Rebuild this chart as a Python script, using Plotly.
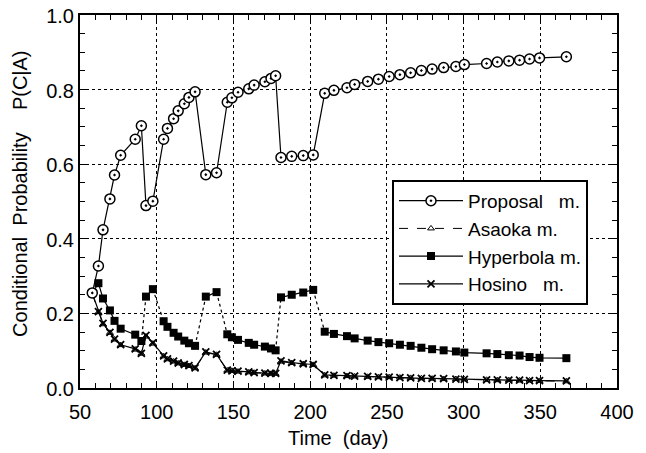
import plotly.graph_objects as go

days = [58, 62, 65, 69.5, 72.5, 76.5, 86, 90, 93, 97.5,
        104.5, 107, 111, 114, 118, 121, 125, 132, 139, 146,
        149, 153, 160, 163.5, 170.5, 174.5, 177.5, 181, 188, 195.5,
        202, 209.5, 215.5, 224, 229, 237.5, 244.5, 251.5, 258.5, 265.5,
        272.5, 279.5, 287, 295, 300.5, 315, 322, 329.5, 336.5, 343,
        349.5, 367]

proposal = [0.255, 0.327, 0.424, 0.507, 0.571, 0.624, 0.667, 0.703, 0.489, 0.501,
            0.667, 0.696, 0.722, 0.743, 0.762, 0.779, 0.794, 0.572, 0.577, 0.766,
            0.778, 0.793, 0.802, 0.812, 0.821, 0.830, 0.837, 0.618, 0.621, 0.623,
            0.625, 0.790, 0.798, 0.805, 0.814, 0.822, 0.828, 0.835, 0.840, 0.845,
            0.851, 0.855, 0.859, 0.862, 0.867, 0.870, 0.874, 0.877, 0.879, 0.882,
            0.885, 0.888]

hyperbola = [0.254, 0.281, 0.240, 0.208, 0.180, 0.159, 0.143, 0.126, 0.245, 0.265,
             0.179, 0.164, 0.148, 0.138, 0.127, 0.120, 0.113, 0.245, 0.257, 0.144,
             0.136, 0.129, 0.121, 0.116, 0.111, 0.106, 0.101, 0.243, 0.250, 0.256,
             0.263, 0.151, 0.145, 0.139, 0.133, 0.127, 0.123, 0.120, 0.116, 0.113,
             0.108, 0.104, 0.101, 0.098, 0.095, 0.093, 0.091, 0.088, 0.087, 0.083,
             0.081, 0.080]

hosino = [0.254, 0.205, 0.173, 0.149, 0.131, 0.116, 0.105, 0.093, 0.141, 0.121,
          0.086, 0.078, 0.072, 0.067, 0.063, 0.060, 0.054, 0.097, 0.090, 0.048,
          0.046, 0.045, 0.043, 0.041, 0.040, 0.039, 0.039, 0.073, 0.068, 0.065,
          0.063, 0.035, 0.034, 0.033, 0.032, 0.031, 0.030, 0.029, 0.028, 0.027,
          0.026, 0.026, 0.025, 0.024, 0.023, 0.022, 0.022, 0.021, 0.021, 0.020,
          0.020, 0.019]

asaoka = [0.252, 0.203, 0.171, 0.148, 0.130, 0.115, 0.103, 0.092, 0.138, 0.119,
          0.085, 0.077, 0.071, 0.066, 0.062, 0.059, 0.053, 0.095, 0.089, 0.047,
          0.046, 0.044, 0.042, 0.041, 0.039, 0.038, 0.038, 0.071, 0.067, 0.064,
          0.062, 0.034, 0.033, 0.032, 0.031, 0.030, 0.029, 0.029, 0.028, 0.027,
          0.026, 0.025, 0.024, 0.024, 0.023, 0.022, 0.021, 0.021, 0.020, 0.020,
          0.019, 0.018]

# indices where a new loading stage starts (hyperbola lines are broken there)
stage_starts = [8, 10, 17, 19, 27, 31]

x_ticks = [50, 100, 150, 200, 250, 300, 350, 400]
y_ticks = [0.0, 0.2, 0.4, 0.6, 0.8, 1.0]

FONT = "Arial, 'Liberation Sans', Helvetica, sans-serif"

fig = go.Figure()

# Asaoka
fig.add_trace(go.Scatter(
    x=days, y=asaoka, mode="lines+markers", name="Asaoka m.",
    line=dict(color="black", width=1, dash="dash"),
    marker=dict(symbol="triangle-up-open", size=6, color="black", line=dict(width=1, color="black")),
))

# Hyperbola: solid within stages, dotted across stage jumps
hx, hy = [], []
for i, (d, v) in enumerate(zip(days, hyperbola)):
    if i in stage_starts:
        hx.append(None)
        hy.append(None)
    hx.append(d)
    hy.append(v)
cx, cy = [], []
for s in stage_starts:
    cx += [days[s - 1], days[s], None]
    cy += [hyperbola[s - 1], hyperbola[s], None]

fig.add_trace(go.Scatter(
    x=cx, y=cy, mode="lines", showlegend=False, hoverinfo="skip",
    line=dict(color="black", width=1.2, dash="dot"),
))
fig.add_trace(go.Scatter(
    x=hx, y=hy, mode="lines+markers", name="Hyperbola m.",
    line=dict(color="black", width=1.2),
    marker=dict(symbol="square", size=8, color="black"),
    connectgaps=False,
))

# Hosino
fig.add_trace(go.Scatter(
    x=days, y=hosino, mode="lines+markers", name="Hosino\u00a0\u00a0 m.",
    line=dict(color="black", width=1.2),
    marker=dict(symbol="x-thin", size=7, color="black", line=dict(width=1.8, color="black")),
))

# Proposal
fig.add_trace(go.Scatter(
    x=days, y=proposal, mode="lines+markers", name="Proposal\u00a0\u00a0\u00a0m.",
    line=dict(color="black", width=1.2),
    marker=dict(symbol="circle-dot", size=10, color="white", line=dict(width=1.5, color="black")),
))

# the page body adds an 8px offset, so the figure is drawn 8px smaller
fig.update_layout(
    width=638, height=445,
    margin=dict(l=72, r=29, t=7, b=65, autoexpand=False),
    paper_bgcolor="white", plot_bgcolor="white",
    font=dict(family=FONT, size=20, color="black"),
    showlegend=True,
    legend=dict(
        x=0.581, y=0.558, xanchor="left", yanchor="top",
        bgcolor="white", bordercolor="black", borderwidth=2,
        font=dict(family=FONT, size=19, color="black"),
        traceorder="normal",
        itemwidth=64,
        tracegroupgap=0,
    ),
    xaxis=dict(
        range=[50, 400], tickvals=x_ticks, ticktext=[str(v) for v in x_ticks],
        showline=True, linecolor="black", linewidth=2, mirror="allticks",
        ticks="inside", ticklen=7, tickwidth=1.2, tickcolor="black",
        minor=dict(dtick=10, ticks="inside", ticklen=5, tickcolor="black", showgrid=False),
        showgrid=True, gridcolor="black", gridwidth=1, griddash="dot",
        zeroline=False, ticklabelstandoff=5, automargin=False,
        ticklabeloverflow="allow",
        tickfont=dict(family=FONT, size=20, color="black"),
    ),
    yaxis=dict(
        range=[0, 1], tickvals=y_ticks, ticktext=[f"{v:.1f}" for v in y_ticks],
        showline=True, linecolor="black", linewidth=2, mirror="allticks",
        ticks="inside", ticklen=7, tickwidth=1.2, tickcolor="black",
        minor=dict(dtick=0.05, ticks="inside", ticklen=5, tickcolor="black", showgrid=False),
        showgrid=True, gridcolor="black", gridwidth=1, griddash="dot",
        zeroline=False, automargin=False,
        ticklabeloverflow="allow", ticklabelshift=1,
        tickfont=dict(family=FONT, size=20, color="black"),
    ),
    annotations=[
        dict(text="Time\u00a0\u00a0(day)", xref="paper", yref="paper", x=0.48, y=-0.134,
             xanchor="center", yanchor="middle", showarrow=False,
             font=dict(family=FONT, size=20, color="black")),
        dict(text="Conditional\u00a0 Probability\u00a0\u00a0\u00a0 P(C|A)", xref="paper", yref="paper",
             x=-0.112, y=0.52, xanchor="center", yanchor="middle", textangle=-90,
             showarrow=False, font=dict(family=FONT, size=20, color="black")),
    ],
)

# legend order: Proposal, Asaoka, Hyperbola, Hosino
fig.data[4].legendrank = 1
fig.data[0].legendrank = 2
fig.data[2].legendrank = 3
fig.data[3].legendrank = 4

fig.write_html("out.html")
